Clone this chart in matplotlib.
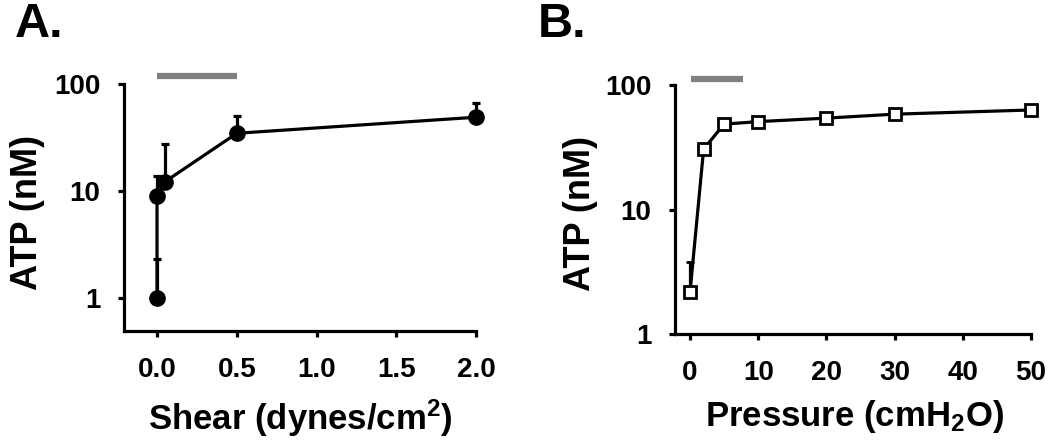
import matplotlib
matplotlib.use("Agg")
import matplotlib.pyplot as plt
import numpy as np

plt.rcParams['font.family'] = ['Liberation Sans', 'DejaVu Sans']
plt.rcParams['font.weight'] = 'bold'
plt.rcParams['mathtext.fontset'] = 'custom'
plt.rcParams['mathtext.rm'] = 'Liberation Sans:bold'
plt.rcParams['mathtext.bf'] = 'Liberation Sans:bold'
plt.rcParams['mathtext.it'] = 'Liberation Sans:bold'

# Panel A: shear
shear_x = [0.0, 0.0, 0.05, 0.5, 2.0]
shear_atp = [1.0, 8.9, 12.2, 34.6, 48.9]
shear_err = [1.3, 5.0, 15.3, 15.4, 17.9]
shear_xticks = [0.0, 0.5, 1.0, 1.5, 2.0]
shear_xticklabels = ["0.0", "0.5", "1.0", "1.5", "2.0"]
shear_bar = [0.0, 0.5]
shear_bar_y = 119

# Panel B: pressure
press_x = [0, 2, 5, 10, 20, 30, 50]
press_atp = [2.16, 30.6, 48.5, 50.8, 54.2, 58.3, 63.0]
press_err = [1.6, 2.0, 4.0, 4.0, 4.5, 4.5, 5.0]
press_xticks = [0, 10, 20, 30, 40, 50]
press_bar = [0.1, 7.7]
press_bar_y = 112

yticks = [1, 10, 100]
yticklabels = ["1", "10", "100"]

W, H = 1050, 444
fig = plt.figure(figsize=(W / 100, H / 100), dpi=100)

def px_axes(l, t, r, b):
    return fig.add_axes([l / W, 1 - b / H, (r - l) / W, (b - t) / H])

axA = px_axes(124, 84, 476, 331)
axB = px_axes(675, 85, 1031, 334)

lw = 2.3
for ax in (axA, axB):
    ax.set_yscale('log')
    for s in ('top', 'right'):
        ax.spines[s].set_visible(False)
    for s in ('left', 'bottom'):
        ax.spines[s].set_linewidth(lw)
    ax.tick_params(axis='both', which='major', direction='out', length=4,
                   width=lw, labelsize=20)
    ax.tick_params(axis='x', which='major', pad=15)
    ax.tick_params(axis='y', which='major', pad=13)
    ax.tick_params(axis='y', which='minor', length=0)
    ax.set_yticks(yticks)
    ax.set_yticklabels(yticklabels)
    for lab in ax.get_xticklabels() + ax.get_yticklabels():
        lab.set_fontweight('bold')

# Panel A
axA.errorbar(shear_x, shear_atp, yerr=[np.zeros(len(shear_err)), shear_err],
             color='black', lw=lw, marker='o', ms=11, mfc='black', mec='black',
             elinewidth=lw, capsize=3, capthick=lw, zorder=3, clip_on=False)
axA.set_xlim(-0.207, 2.0)
axA.set_ylim(0.49, 100)
axA.set_xticks(shear_xticks)
axA.set_xticklabels(shear_xticklabels)
axA.plot(shear_bar, [shear_bar_y, shear_bar_y], color='#808080', lw=4.5,
         solid_capstyle='butt', clip_on=False)
axA.set_xlabel("Shear (dynes/cm$^{2}$)", fontsize=25, fontweight='bold')
axA.set_ylabel("ATP (nM)", fontsize=26, fontweight='bold')
axA.xaxis.set_label_coords(0.5, -0.27)
axA.yaxis.set_label_coords(-0.224, 0.48)

# Panel B
axB.errorbar(press_x, press_atp, yerr=[np.zeros(len(press_err)), press_err],
             color='black', lw=lw, marker='s', ms=9, mfc='white', mec='black',
             mew=2, elinewidth=lw, capsize=3, capthick=lw, zorder=3, clip_on=False)
axB.set_xlim(-2.2, 50)
axB.set_ylim(1, 100)
axB.set_xticks(press_xticks)
axB.set_xticklabels([str(v) for v in press_xticks])
axB.plot(press_bar, [press_bar_y, press_bar_y], color='#808080', lw=4.5,
         solid_capstyle='butt', clip_on=False)
axB.set_xlabel("Pressure (cmH$_{2}$O)", fontsize=25, fontweight='bold')
axB.set_ylabel("ATP (nM)", fontsize=26, fontweight='bold')
axB.xaxis.set_label_coords(0.503, -0.257)
axB.yaxis.set_label_coords(-0.216, 0.484)

fig.text(15 / W, 1 - 37 / H, "A.", fontsize=35, fontweight='bold', ha='left', va='baseline')
fig.text(538 / W, 1 - 37 / H, "B.", fontsize=35, fontweight='bold', ha='left', va='baseline')

fig.savefig("out.png", dpi=100)
